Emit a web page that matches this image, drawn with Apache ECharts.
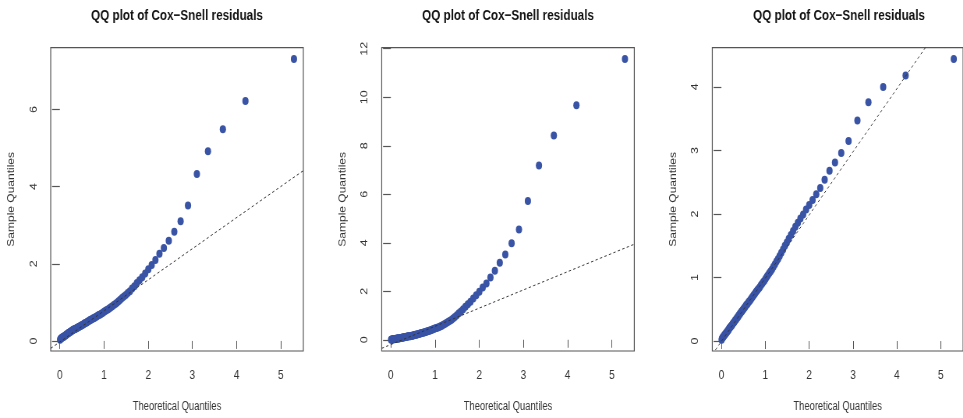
<!DOCTYPE html>
<html>
<head>
<meta charset="utf-8">
<title>QQ plot of Cox-Snell residuals</title>
<script src="https://cdn.jsdelivr.net/npm/echarts@6/dist/echarts.min.js"></script>
<style>
  html, body { margin: 0; padding: 0; background: #fff; overflow: hidden; width: 963px; height: 418px; }
  /* Die Vorlage ist horizontal gestaucht: Chart breiter zeichnen und per CSS zusammendruecken */
  #chart { width: 1235px; height: 418px; transform: scaleX(0.7798); transform-origin: 0 0; }
</style>
</head>
<body>
<div id="chart"></div>
<script>
// Theoretische Quantile (Exponentialverteilung, n = 100), gemeinsam fuer alle drei Plots
const theoQuantiles = [
  0.005, 0.015, 0.025, 0.036, 0.046, 0.057, 0.067, 0.078, 0.089, 0.100,
  0.111, 0.122, 0.134, 0.145, 0.157, 0.168, 0.180, 0.192, 0.205, 0.217,
  0.229, 0.242, 0.255, 0.268, 0.281, 0.294, 0.308, 0.322, 0.335, 0.350,
  0.364, 0.378, 0.393, 0.408, 0.423, 0.439, 0.454, 0.470, 0.486, 0.503,
  0.519, 0.536, 0.553, 0.571, 0.589, 0.607, 0.625, 0.644, 0.664, 0.683,
  0.703, 0.724, 0.744, 0.766, 0.787, 0.810, 0.832, 0.856, 0.879, 0.904,
  0.929, 0.955, 0.981, 1.008, 1.036, 1.064, 1.094, 1.124, 1.155, 1.187,
  1.221, 1.255, 1.291, 1.328, 1.366, 1.407, 1.448, 1.492, 1.537, 1.585,
  1.635, 1.687, 1.743, 1.802, 1.864, 1.931, 2.002, 2.079, 2.163, 2.254,
  2.354, 2.465, 2.590, 2.733, 2.900, 3.101, 3.352, 3.689, 4.200, 5.298
];

// Sample Quantiles
const residuals1 = [
  0.03, 0.05, 0.06, 0.07, 0.08, 0.09, 0.10, 0.10, 0.11, 0.12,
  0.13, 0.14, 0.15, 0.16, 0.17, 0.18, 0.19, 0.20, 0.21, 0.22,
  0.23, 0.24, 0.25, 0.26, 0.27, 0.28, 0.29, 0.30, 0.30, 0.31,
  0.32, 0.33, 0.34, 0.35, 0.36, 0.37, 0.38, 0.39, 0.40, 0.41,
  0.42, 0.43, 0.45, 0.46, 0.47, 0.48, 0.50, 0.51, 0.52, 0.54,
  0.55, 0.56, 0.58, 0.59, 0.60, 0.62, 0.63, 0.65, 0.67, 0.68,
  0.70, 0.72, 0.74, 0.76, 0.78, 0.80, 0.82, 0.85, 0.87, 0.90,
  0.93, 0.96, 0.99, 1.03, 1.07, 1.11, 1.15, 1.19, 1.24, 1.29,
  1.36, 1.42, 1.50, 1.57, 1.65, 1.75, 1.86, 1.97, 2.10, 2.26,
  2.41, 2.60, 2.83, 3.10, 3.51, 4.33, 4.92, 5.49, 6.22, 7.31
];
const residuals2 = [
  0.00, 0.01, 0.01, 0.01, 0.02, 0.02, 0.02, 0.03, 0.03, 0.03,
  0.04, 0.04, 0.04, 0.05, 0.05, 0.05, 0.06, 0.06, 0.06, 0.07,
  0.07, 0.08, 0.08, 0.09, 0.09, 0.10, 0.10, 0.11, 0.11, 0.12,
  0.12, 0.13, 0.14, 0.14, 0.15, 0.15, 0.16, 0.17, 0.17, 0.18,
  0.19, 0.20, 0.21, 0.21, 0.22, 0.23, 0.24, 0.25, 0.26, 0.27,
  0.28, 0.29, 0.30, 0.31, 0.32, 0.34, 0.35, 0.36, 0.38, 0.39,
  0.41, 0.43, 0.45, 0.47, 0.49, 0.51, 0.53, 0.56, 0.58, 0.62,
  0.65, 0.69, 0.73, 0.77, 0.82, 0.88, 0.94, 1.01, 1.09, 1.17,
  1.26, 1.36, 1.46, 1.57, 1.70, 1.84, 1.98, 2.16, 2.32, 2.57,
  2.85, 3.18, 3.52, 3.98, 4.55, 5.72, 7.19, 8.42, 9.67, 11.58
];
const residuals3 = [
  0.02, 0.04, 0.05, 0.06, 0.07, 0.08, 0.09, 0.10, 0.11, 0.12,
  0.13, 0.14, 0.15, 0.16, 0.17, 0.18, 0.20, 0.21, 0.22, 0.23,
  0.24, 0.25, 0.27, 0.28, 0.29, 0.30, 0.32, 0.33, 0.34, 0.36,
  0.37, 0.38, 0.40, 0.41, 0.43, 0.44, 0.46, 0.47, 0.49, 0.50,
  0.52, 0.53, 0.55, 0.57, 0.58, 0.60, 0.62, 0.63, 0.65, 0.67,
  0.69, 0.71, 0.73, 0.75, 0.77, 0.79, 0.81, 0.83, 0.85, 0.88,
  0.90, 0.93, 0.95, 0.98, 1.01, 1.04, 1.07, 1.10, 1.13, 1.17,
  1.21, 1.25, 1.29, 1.34, 1.39, 1.44, 1.50, 1.55, 1.61, 1.67,
  1.73, 1.80, 1.86, 1.93, 1.99, 2.07, 2.14, 2.22, 2.31, 2.41,
  2.54, 2.68, 2.81, 2.96, 3.15, 3.47, 3.76, 4.00, 4.18, 4.44
];

// qqline: Steigung und Achsenabschnitt je Plot
const lineSlopes = [0.806, 0.751, 0.994];
const lineIntercepts = [-0.027, -0.197, -0.005];

// Achsenbeschriftungen
const xTicks = [0, 1, 2, 3, 4, 5];
const yTicks1 = [0, 2, 4, 6];
const yTicks2 = [0, 2, 4, 6, 8, 10, 12];
const yTicks3 = [0, 1, 2, 3, 4];

const plotTitle = 'QQ plot of Cox\u2212Snell residuals';
const xName = 'Theoretical Quantiles';
const yName = 'Sample Quantiles';

// Stauchungsfaktor (muss zu scaleX im CSS passen)
const S = 0.7798;

// Layout der drei Plotboxen in Bildschirm-Pixeln, unten in Chart-Koordinaten umgerechnet
const boxLeft = [50.7, 381.7, 712.3];
const boxWidth = [252.6, 252.6, 253.5];
const boxTop = 47.7;
const boxHeight = 306.6;

const font = "'Liberation Sans', Arial, Helvetica, sans-serif";
const frameColor = '#555';
const textColor = '#333';
const pointColor = '#3953a5';

const panels = [
  { y: residuals1, yTicks: yTicks1 },
  { y: residuals2, yTicks: yTicks2 },
  { y: residuals3, yTicks: yTicks3 }
];

// R-Stil: Achsenbereich = Datenbereich + 4% auf beiden Seiten
function rRange(values) {
  const lo = Math.min(...values), hi = Math.max(...values);
  const pad = (hi - lo) * 0.04;
  return [lo - pad, hi + pad];
}

const chart = echarts.init(document.getElementById('chart'), null, { renderer: 'canvas' });

const grids = [], xAxes = [], yAxes = [], series = [], graphics = [];
const xr = rRange(theoQuantiles);

panels.forEach((p, i) => {
  const yr = rRange(p.y);
  const left = boxLeft[i] / S;
  const width = boxWidth[i] / S;

  grids.push({
    left: left, top: boxTop, width: width, height: boxHeight,
    show: true, borderColor: frameColor, borderWidth: 1.2, backgroundColor: 'transparent',
    containLabel: false
  });

  xAxes.push({
    type: 'value', gridIndex: i, min: xr[0], max: xr[1],
    name: xName, nameLocation: 'middle', nameGap: 50,
    nameTextStyle: { fontFamily: font, fontSize: 12, color: textColor },
    axisLine: { show: false },
    axisTick: { show: true, length: 8, customValues: xTicks, lineStyle: { color: frameColor, width: 1 } },
    axisLabel: { customValues: xTicks, margin: 18, fontFamily: font, fontSize: 13, color: textColor },
    splitLine: { show: false }
  });

  yAxes.push({
    type: 'value', gridIndex: i, min: yr[0], max: yr[1],
    name: yName, nameLocation: 'middle', nameGap: 44,
    nameTextStyle: { fontFamily: font, fontSize: 12, color: textColor },
    axisLine: { show: false },
    axisTick: { show: true, length: 10, customValues: p.yTicks, lineStyle: { color: frameColor, width: 1.2 } },
    axisLabel: { customValues: p.yTicks, rotate: 90, margin: 15, fontFamily: font, fontSize: 12.5, color: textColor },
    splitLine: { show: false }
  });

  series.push({
    type: 'scatter', xAxisIndex: i, yAxisIndex: i,
    data: theoQuantiles.map((q, k) => [q, p.y[k]]),
    symbol: 'circle', symbolSize: 8,
    itemStyle: { color: pointColor, opacity: 1 },
    silent: true, z: 2
  });

  // Referenzlinie ueber die ganze x-Achse, wird vom Grid abgeschnitten
  series.push({
    type: 'line', xAxisIndex: i, yAxisIndex: i,
    data: xr.map(x => [x, lineSlopes[i] * x + lineIntercepts[i]]),
    showSymbol: false, symbol: 'none', clip: true,
    lineStyle: { color: '#333', width: 1, type: [3, 3] },
    silent: true, z: 3
  });

  graphics.push({
    type: 'text', x: left + width / 2, y: 16,
    style: {
      text: plotTitle, fill: '#111', fontFamily: font, fontWeight: 'bold', fontSize: 15,
      align: 'center', verticalAlign: 'middle'
    }
  });
});

chart.setOption({
  animation: false,
  grid: grids,
  xAxis: xAxes,
  yAxis: yAxes,
  series: series,
  graphic: graphics
});

window.addEventListener('resize', () => chart.resize());
</script>
</body>
</html>
